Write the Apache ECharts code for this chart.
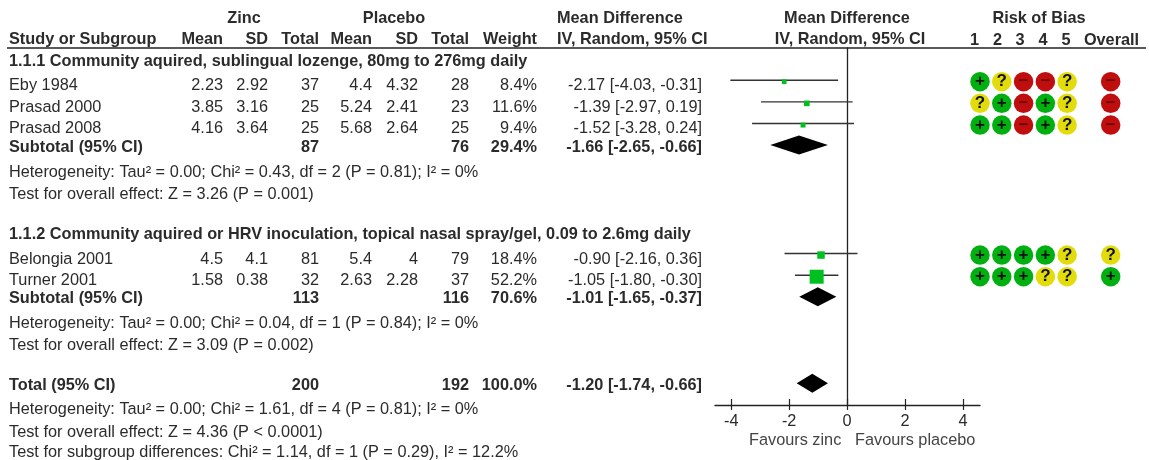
<!DOCTYPE html>
<html><head><meta charset="utf-8">
<style>html,body{margin:0;padding:0;background:#fff}#c{width:1149px;height:460px}</style>
<script src="https://cdn.jsdelivr.net/npm/echarts@6/dist/echarts.min.js"></script>
</head><body><div id="c"></div>
<script>
// ---- data ----
const studies   = ['Eby 1984','Prasad 2000','Prasad 2008','Belongia 2001','Turner 2001'];
const zincMean  = [2.23,3.85,4.16,4.5,1.58];
const zincSD    = [2.92,3.16,3.64,4.1,0.38];
const zincN     = [37,25,25,81,32];
const placMean  = [4.4,5.24,5.68,5.4,2.63];
const placSD    = [4.32,2.41,2.64,4,2.28];
const placN     = [28,23,25,79,37];
const weights   = [8.4,11.6,9.4,18.4,52.2];
const md        = [-2.17,-1.39,-1.52,-0.90,-1.05];
const ciLow     = [-4.03,-2.97,-3.28,-2.16,-1.80];
const ciHigh    = [-0.31,0.19,0.24,0.36,-0.30];
const studyRows = [0,1,2,8,9];

const pooledLabels = ['Subtotal (95% CI)','Subtotal (95% CI)','Total (95% CI)'];
const pooledZincN  = [87,113,200];
const pooledPlacN  = [76,116,192];
const pooledWeight = ['29.4%','70.6%','100.0%'];
const pooledMd     = [-1.66,-1.01,-1.20];
const pooledLow    = [-2.65,-1.65,-1.74];
const pooledHigh   = [-0.66,-0.37,-0.66];
const pooledRows   = [3,10,14];

const rob = [
  ['+','?','-','-','?','-'],
  ['?','+','-','+','?','-'],
  ['+','+','-','+','?','-'],
  ['+','+','+','+','?','?'],
  ['+','+','+','?','?','+']
];
const robColumns = [0,1,2,3,4,6];
const robHeaders = ['1','2','3','4','5','Overall'];
const xTicks = [-4,-2,0,2,4];
const groupTitles = ['1.1.1 Community aquired, sublingual lozenge, 80mg to 276mg daily','1.1.2 Community aquired or HRV inoculation, topical nasal spray/gel, 0.09 to 2.6mg daily'];
const notes = [
 'Heterogeneity: Tau² = 0.00; Chi² = 0.43, df = 2 (P = 0.81); I² = 0%',
 'Test for overall effect: Z = 3.26 (P = 0.001)',
 'Heterogeneity: Tau² = 0.00; Chi² = 0.04, df = 1 (P = 0.84); I² = 0%',
 'Test for overall effect: Z = 3.09 (P = 0.002)',
 'Heterogeneity: Tau² = 0.00; Chi² = 1.61, df = 4 (P = 0.81); I² = 0%',
 'Test for overall effect: Z = 4.36 (P < 0.0001)',
 'Test for subgroup differences: Chi² = 1.14, df = 1 (P = 0.29), I² = 12.2%'
];

// ---- layout ----
const FONT = '"Liberation Sans", Arial, sans-serif';
const FS = 16.3, INK = '#2b2b2b';
const colX = {study:9, zm:223, zs:268, zn:319, pm:372, ps:418, pn:469, w:537, ci:702};
const studyTextY = [84.5,106,127.5,258,279];
const pooledTextY = [146,297.5,384.5];
const noteY = [171.5,193,322,344,408,431,451];
const groupY = [60.5,233];
const robHeadX = [974.5,997.5,1020,1043,1066,1111.5];

const T = [];
function put(s,x,y,align,bold,fill){
  T.push({type:'text',x:x,y:y+1.2,silent:true,style:{text:String(s),x:0,y:0,align:align||'left',verticalAlign:'middle',
    font:(bold?'bold ':'')+FS+'px '+FONT,fill:fill||INK}});
}
const ciText=(m,l,h)=>m.toFixed(2)+' ['+l.toFixed(2)+', '+h.toFixed(2)+']';

put('Zinc',244,17,'center',true);
put('Placebo',394,17,'center',true);
put('Mean Difference',557,17,'left',true);
put('Mean Difference',847,17,'center',true);
put('Risk of Bias',1039,17.5,'center',true);
[['Study or Subgroup',colX.study,'left'],['Mean',colX.zm,'right'],['SD',colX.zs,'right'],['Total',colX.zn,'right'],
 ['Mean',colX.pm,'right'],['SD',colX.ps,'right'],['Total',colX.pn,'right'],['Weight',colX.w,'right'],
 ['IV, Random, 95% CI',557,'left'],['IV, Random, 95% CI',850,'center']].forEach(h=>put(h[0],h[1],38.5,h[2],true));
robHeaders.forEach((h,i)=>put(h,robHeadX[i],39,'center',true));
groupTitles.forEach((g,i)=>put(g,colX.study,groupY[i],'left',true));
studies.forEach((s,i)=>{
  const y=studyTextY[i];
  put(s,colX.study,y);
  put(zincMean[i],colX.zm,y,'right');put(zincSD[i],colX.zs,y,'right');put(zincN[i],colX.zn,y,'right');
  put(placMean[i],colX.pm,y,'right');put(placSD[i],colX.ps,y,'right');put(placN[i],colX.pn,y,'right');
  put(weights[i].toFixed(1)+'%',colX.w,y,'right');
  put(ciText(md[i],ciLow[i],ciHigh[i]),colX.ci,y,'right');
});
pooledLabels.forEach((s,i)=>{
  const y=pooledTextY[i];
  put(s,colX.study,y,'left',true);
  put(pooledZincN[i],colX.zn,y,'right',true);
  put(pooledPlacN[i],colX.pn,y,'right',true);
  put(pooledWeight[i],colX.w,y,'right',true);
  put(ciText(pooledMd[i],pooledLow[i],pooledHigh[i]),colX.ci,y,'right',true);
});
notes.forEach((s,i)=>put(s,colX.study,noteY[i]));
put('Favours zinc',749,439,'left',false,'#444');
put('Favours placebo',855,439,'left',false,'#444');
T.push({type:'line',silent:true,shape:{x1:7,y1:48,x2:1146,y2:48},style:{stroke:'#222',lineWidth:1.4}});

const robPts=[];
rob.forEach((r,i)=>r.forEach((v,j)=>robPts.push({value:[robColumns[j],studyRows[i]],mark:v})));
const robColor={'+':'#00b010','?':'#e2dc0c','-':'#c00e0e'};
const robGlyph={'+':'+','?':'?','-':'−'};

const chart=echarts.init(document.getElementById('c'),null,{renderer:'canvas'});
chart.setOption({
  animation:false,
  backgroundColor:'#fff',
  graphic:{elements:T},
  grid:[
    {left:715,top:48,width:265,height:357},
    {left:980,top:48,width:130.7,height:357}
  ],
  xAxis:[
    {gridIndex:0,type:'value',min:-4.56,max:4.59,position:'bottom',splitLine:{show:false},
     axisLine:{onZero:false,lineStyle:{color:'#222',width:1.4}},
     axisTick:{customValues:xTicks,length:5,lineStyle:{color:'#222',width:1.2}},
     axisLabel:{customValues:xTicks,margin:8.5,color:INK,fontFamily:FONT,fontSize:FS}},
    {gridIndex:0,type:'value',min:-4.56,max:4.59,position:'bottom',splitLine:{show:false},
     axisLine:{show:false,onZero:false},axisLabel:{show:false},
     axisTick:{customValues:xTicks,inside:true,length:6,lineStyle:{color:'#222',width:1.2}}},
    {gridIndex:1,type:'value',min:0,max:6,show:false}
  ],
  yAxis:[
    {gridIndex:0,type:'value',inverse:true,min:-1.555,max:14.92,splitLine:{show:false},
     axisTick:{show:false},axisLabel:{show:false},
     axisLine:{show:true,onZero:true,lineStyle:{color:'#222',width:1.3}}},
    {gridIndex:1,type:'value',inverse:true,min:-1.555,max:14.92,show:false}
  ],
  series:[
    {name:'CI',type:'custom',xAxisIndex:0,yAxisIndex:0,clip:false,
     data:md.map((m,i)=>[ciLow[i],ciHigh[i],studyRows[i]]),
     renderItem:(p,api)=>{
       const a=api.coord([api.value(0),api.value(2)]),b=api.coord([api.value(1),api.value(2)]);
       return {type:'line',shape:{x1:a[0],y1:a[1]-1.5,x2:b[0],y2:b[1]-1.5},style:{stroke:'#333',lineWidth:1.4}};
     }},
    {name:'Study estimate',type:'scatter',xAxisIndex:0,yAxisIndex:0,symbol:'rect',clip:false,
     data:md.map((m,i)=>({value:[m,studyRows[i]],symbolSize:14*Math.pow(weights[i]/52.2,0.6)})),
     itemStyle:{color:'#00c020',opacity:1}},
    {name:'Pooled',type:'custom',xAxisIndex:0,yAxisIndex:0,clip:false,
     data:pooledMd.map((m,i)=>[pooledLow[i],m,pooledHigh[i],pooledRows[i]]),
     renderItem:(p,api)=>{
       const r=api.value(3);
       const a=api.coord([api.value(0),r]),c=api.coord([api.value(1),r]),b=api.coord([api.value(2),r]);
       const y=a[1]-1.7,h=9.5;
       return {type:'polygon',shape:{points:[[a[0],y],[c[0],y-h],[b[0],y],[c[0],y+h]]},style:{fill:'#000'}};
     }},
    {name:'Risk of bias',type:'scatter',xAxisIndex:2,yAxisIndex:1,symbol:'circle',symbolSize:19.5,clip:false,
     data:robPts.map(d=>({value:d.value,itemStyle:{color:robColor[d.mark],opacity:1},
       label:{show:true,position:'inside',formatter:robGlyph[d.mark],fontFamily:FONT,fontWeight:'bold',fontSize:17,
              color:d.mark==='-'?'#6a0808':'#111'}}))}
  ]
});
</script></body></html>
